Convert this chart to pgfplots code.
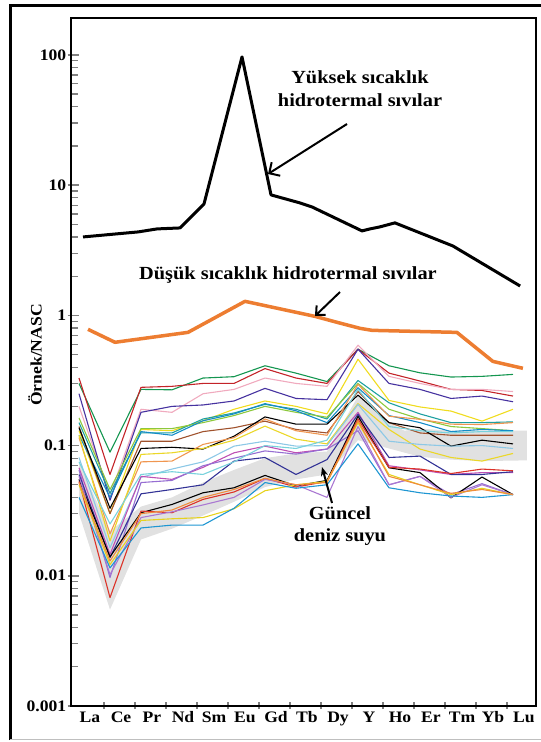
\documentclass[border=0pt]{standalone}
\usepackage{fontspec}
\setmainfont{Liberation Serif}[FakeStretch=1.1]
\usepackage{pgfplots}
\usepackage{pgfplotstable}
\pgfplotsset{compat=1.18}
\usetikzlibrary{arrows.meta}

\definecolor{cGreen}{RGB}{20,150,80}
\definecolor{cRed}{RGB}{195,35,40}
\definecolor{cPink}{RGB}{240,170,190}
\definecolor{cIndigo}{RGB}{70,50,160}
\definecolor{cYellow}{RGB}{240,220,30}
\definecolor{cTeal}{RGB}{30,160,160}
\definecolor{cYGreen}{RGB}{140,200,60}
\definecolor{cCyan}{RGB}{20,140,200}
\definecolor{cBrown}{RGB}{160,82,45}
\definecolor{cSand}{RGB}{240,150,80}
\definecolor{cYellowB}{RGB}{235,215,40}
\definecolor{cLBlue}{RGB}{140,200,230}
\definecolor{cMag}{RGB}{190,80,180}
\definecolor{cViolet}{RGB}{150,110,210}
\definecolor{cNavy}{RGB}{50,50,150}
\definecolor{cRedB}{RGB}{220,50,40}
\definecolor{cLav}{RGB}{170,120,210}
\definecolor{cYellowC}{RGB}{230,210,30}
\definecolor{cCer}{RGB}{30,150,210}
\definecolor{cOrangeB}{RGB}{240,140,60}
\definecolor{cLCyan}{RGB}{120,210,220}
\definecolor{cMainOrange}{RGB}{237,125,49}
\definecolor{cBand}{RGB}{225,225,225}

\pgfplotstableread{
x  g    r    pk   ind  yel  teal yg   cy   br   bk   sand y2   lb   mag  vio  nav  bkb  rb   lav  yc   cer  orb  lcy
0  0.30 0.33 0.20 0.25 0.13 0.15 0.163 0.12 0.14 0.137 0.115 0.12 0.081 0.0675 0.065 0.060 0.055 0.053 0.058 0.050 0.040 0.052 0.075
1  0.089 0.060 0.042 0.038 0.030 0.043 0.046 0.040 0.030 0.033 0.021 0.0185 0.0164 0.0146 0.0097 0.0138 0.014 0.0068 0.0102 0.0122 0.0115 0.013 0.025
2  0.27 0.28 0.19 0.18 0.133 0.125 0.135 0.128 0.108 0.095 0.075 0.0855 0.057 0.058 0.052 0.0426 0.0305 0.0314 0.028 0.0266 0.0233 0.030 0.060
3  0.268 0.285 0.18 0.20 0.13 0.125 0.135 0.12 0.108 0.097 0.076 0.088 0.066 0.055 0.054 0.046 0.0353 0.0305 0.031 0.0274 0.0245 0.032 0.063
4  0.33 0.30 0.25 0.205 0.155 0.16 0.15 0.155 0.128 0.094 0.102 0.095 0.075 0.068 0.070 0.050 0.0434 0.0386 0.035 0.028 0.0245 0.040 0.060
5  0.338 0.30 0.27 0.22 0.19 0.178 0.17 0.175 0.137 0.118 0.115 0.11 0.099 0.088 0.080 0.076 0.0474 0.044 0.040 0.0327 0.033 0.046 0.075
6  0.41 0.39 0.33 0.275 0.22 0.207 0.20 0.21 0.154 0.166 0.16 0.141 0.108 0.099 0.091 0.081 0.059 0.056 0.055 0.045 0.052 0.056 0.100
7  0.36 0.33 0.30 0.23 0.20 0.19 0.18 0.185 0.133 0.146 0.13 0.112 0.099 0.088 0.086 0.060 0.049 0.048 0.050 0.050 0.047 0.050 0.095
8  0.31 0.30 0.285 0.225 0.175 0.16 0.165 0.15 0.125 0.146 0.12 0.103 0.10 0.094 0.094 0.078 0.054 0.053 0.040 0.053 0.050 0.052 0.110
9  0.55 0.55 0.59 0.55 0.46 0.316 0.30 0.278 0.26 0.244 0.295 0.21 0.207 0.18 0.13 0.174 0.168 0.16 0.14 0.15 0.103 0.155 0.270
10 0.41 0.36 0.34 0.30 0.222 0.213 0.19 0.17 0.15 0.15 0.168 0.133 0.108 0.070 0.050 0.081 0.0675 0.068 0.050 0.060 0.0474 0.058 0.140
11 0.362 0.313 0.30 0.27 0.198 0.175 0.16 0.15 0.125 0.137 0.159 0.094 0.102 0.065 0.058 0.083 0.062 0.066 0.058 0.050 0.0434 0.050 0.130
12 0.336 0.27 0.27 0.23 0.184 0.15 0.14 0.128 0.12 0.099 0.146 0.081 0.099 0.060 0.042 0.060 0.0397 0.061 0.040 0.042 0.041 0.043 0.125
13 0.34 0.265 0.27 0.24 0.154 0.15 0.135 0.133 0.12 0.11 0.145 0.076 0.10 0.062 0.051 0.060 0.0573 0.066 0.050 0.047 0.040 0.046 0.128
14 0.352 0.24 0.26 0.217 0.19 0.152 0.13 0.13 0.12 0.103 0.15 0.087 0.095 0.062 0.042 0.063 0.042 0.064 0.042 0.042 0.042 0.042 0.128
}\rees

\begin{document}
\begin{tikzpicture}[x=1pt,y=1pt]
\useasboundingbox (0,0) rectangle (541,-742);
\draw[line width=3pt] (10,-740) -- (10,-5) -- (545,-5);
\draw[black!25, line width=1.2pt] (10,-739.5) -- (541,-739.5);
\begin{axis}[
  at={(70.7pt,-18pt)}, anchor=north west,
  scale only axis, width=465.3pt, height=688pt,
  ymode=log, ymin=0.001, ymax=192,
  xmin=-0.268, xmax=14.742,
  xtick={0.355,1.355,2.355,3.355,4.355,5.355,6.355,7.355,8.355,9.355,10.355,11.355,12.355,13.355,14.355},
  xticklabels={La,Ce,Pr,Nd,Sm,Eu,Gd,Tb,Dy,Y,Ho,Er,Tm,Yb,Lu},
  minor xtick={0.81,1.81,2.81,3.81,4.81,5.81,6.81,7.81,8.81,9.81,10.81,11.81,12.81,13.81},
  ytick={0.001,0.01,0.1,1,10,100},
  yticklabels={0.001,0.01,0.1,1,10,100},
  minor ytick={0.002,0.003,0.004,0.005,0.006,0.007,0.008,0.009,0.02,0.03,0.04,0.05,0.06,0.07,0.08,0.09,0.2,0.3,0.4,0.5,0.6,0.7,0.8,0.9,2,3,4,5,6,7,8,9,20,30,40,50,60,70,80,90},
  tick pos=left, tick align=inside,
  major tick length=11pt, minor tick length=7pt,
  major x tick style={draw=none},
  minor x tick style={yshift=-3pt, line width=1.6pt},
  major y tick style={xshift=-3pt, line width=1.6pt},
  minor y tick style={line width=1.2pt},
  axis line style={line width=2.2pt},
  ticklabel style={font=\fontsize{16}{18}\selectfont\bfseries},
  xticklabel style={yshift=-2pt},
  yticklabel style={xshift=-1pt},
  clip=true,
]
% seawater band
\addplot[draw=none, fill=cBand] coordinates {
 (0,0.075) (1,0.022) (2,0.034) (3,0.040) (4,0.052) (5,0.065) (6,0.080) (7,0.087) (8,0.090) (9,0.24) (10,0.15) (10.5,0.13) (11,0.135) (12,0.13) (13,0.13) (14.45,0.13)
 (14.45,0.077) (13,0.076) (12,0.078) (11,0.082) (10,0.095) (9,0.11) (8,0.060) (7,0.055) (6,0.048) (5,0.037) (4,0.029) (3,0.023) (2,0.019) (1,0.0055) (0,0.030)
} -- cycle;

\addplot[cGreen, line width=1.1pt, line join=round] table[x=x,y=g] {\rees};
\addplot[cRed, line width=1.1pt, line join=round] table[x=x,y=r] {\rees};
\addplot[cPink, line width=1.1pt, line join=round] table[x=x,y=pk] {\rees};
\addplot[cIndigo, line width=1.1pt, line join=round] table[x=x,y=ind] {\rees};
\addplot[cYellow, line width=1.1pt, line join=round] table[x=x,y=yel] {\rees};
\addplot[cTeal, line width=1.1pt, line join=round] table[x=x,y=teal] {\rees};
\addplot[cYGreen, line width=1.1pt, line join=round] table[x=x,y=yg] {\rees};
\addplot[cCyan, line width=1.1pt, line join=round] table[x=x,y=cy] {\rees};
\addplot[cBrown, line width=1.1pt, line join=round] table[x=x,y=br] {\rees};
\addplot[black, line width=1.1pt, line join=round] table[x=x,y=bk] {\rees};
\addplot[cSand, line width=1.1pt, line join=round] table[x=x,y=sand] {\rees};
\addplot[cYellowB, line width=1.1pt, line join=round] table[x=x,y=y2] {\rees};
\addplot[cLBlue, line width=1.1pt, line join=round] table[x=x,y=lb] {\rees};
\addplot[cMag, line width=1.1pt, line join=round] table[x=x,y=mag] {\rees};
\addplot[cViolet, line width=1.1pt, line join=round] table[x=x,y=vio] {\rees};
\addplot[cNavy, line width=1.1pt, line join=round] table[x=x,y=nav] {\rees};
\addplot[black, line width=1.1pt, line join=round] table[x=x,y=bkb] {\rees};
\addplot[cRedB, line width=1.1pt, line join=round] table[x=x,y=rb] {\rees};
\addplot[cLav, line width=1.1pt, line join=round] table[x=x,y=lav] {\rees};
\addplot[cYellowC, line width=1.1pt, line join=round] table[x=x,y=yc] {\rees};
\addplot[cCer, line width=1.1pt, line join=round] table[x=x,y=cer] {\rees};
\addplot[cOrangeB, line width=1.1pt, line join=round] table[x=x,y=orb] {\rees};
\addplot[cLCyan, line width=1.1pt, line join=round] table[x=x,y=lcy] {\rees};

% low-temperature hydrothermal fluids
\addplot[cMainOrange, line width=3.5pt, line join=round] coordinates {
 (0.290,0.781) (1.161,0.621) (3.516,0.740) (5.355,1.281) (7.613,0.982) (8.323,0.884) (9.065,0.795) (9.452,0.767) (12.19,0.740) (13.35,0.443) (14.32,0.392)
};
% high-temperature hydrothermal fluids
\addplot[black, line width=3pt, line join=round] coordinates {
 (0.129,4.0) (1.903,4.37) (2.516,4.61) (3.258,4.69) (4.032,7.17) (5.258,96.5) (6.194,8.41) (7.129,7.30) (7.516,6.80) (9.129,4.45) (9.387,4.61) (9.71,4.78) (10.19,5.13) (12.06,3.41) (14.23,1.68)
};
\end{axis}

\node[rotate=90, font=\fontsize{16}{18}\selectfont\bfseries] at (35,-355) {Örnek/NASC};

\begin{scope}[font=\fontsize{18.5}{22}\selectfont\bfseries]
\node at (360,-77) {Yüksek sıcaklık};
\node at (360,-100) {hidrotermal sıvılar};
\node at (288,-275) {Düşük sıcaklık hidrotermal sıvılar};
\node at (340,-513) {Güncel};
\node at (340,-537) {deniz suyu};
\end{scope}
\draw[line width=2pt, -{Straight Barb[length=8pt,width=16pt]}] (347,-124) -- (268,-174);
\draw[line width=2pt, -{Straight Barb[length=7pt,width=13pt]}] (340,-292) -- (315,-316);
\draw[line width=2pt, -{Stealth[length=9pt,width=7pt]}] (332,-503) -- (322,-467);
\end{tikzpicture}
\end{document}
